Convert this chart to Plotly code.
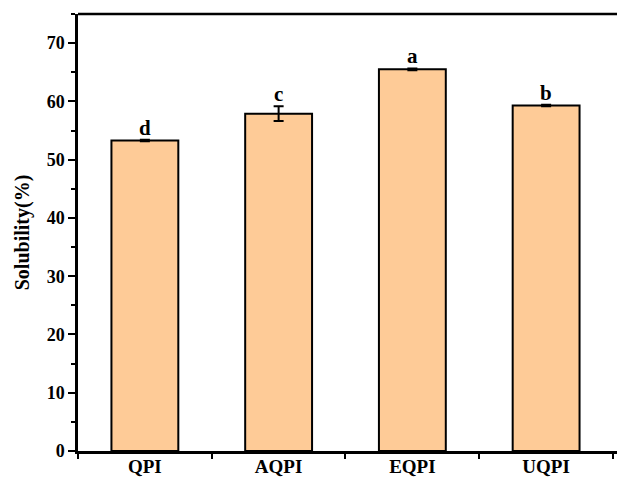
import plotly.graph_objects as go

# Solubility of the protein isolates (mean ± SD) with significance letters
samples = ["QPI", "AQPI", "EQPI", "UQPI"]
solubility = [53.3, 57.9, 65.5, 59.3]
sd = [0.12, 1.25, 0.15, 0.12]
letters = ["d", "c", "a", "b"]

FONT = "Liberation Serif"

fig = go.Figure()
fig.add_trace(go.Bar(
    x=samples,
    y=solubility,
    width=0.5,
    marker=dict(color="#FECB97", line=dict(color="black", width=2)),
    error_y=dict(type="data", array=sd, visible=True,
                 color="black", thickness=2, width=5),
    showlegend=False,
))

for s, v, e, t in zip(samples, solubility, sd, letters):
    fig.add_annotation(x=s, y=v + e, text=f"<b>{t}</b>", showarrow=False,
                       yanchor="bottom", yshift=-2,
                       font=dict(family=FONT, size=21, color="black"))

# top frame line of the plotting area
fig.add_shape(type="line", xref="paper", yref="paper", x0=0, x1=1, y0=1, y1=1,
              line=dict(color="black", width=2.5))

fig.update_layout(
    width=617, height=478,
    margin=dict(l=78, r=0, t=14, b=27),
    plot_bgcolor="white", paper_bgcolor="white",
    bargap=0.5,
)
fig.update_xaxes(
    type="category",
    range=[-0.5, 3.53],
    automargin=False,
    showline=True, linecolor="black", linewidth=2.5,
    mirror=False,
    ticks="outside", tickson="boundaries", ticklen=5, tickwidth=2,
    tickcolor="black", ticklabelstandoff=-4,
    tickfont=dict(family=FONT, size=19, color="black", weight="bold"),
    showgrid=False,
)
fig.update_yaxes(
    range=[0, 75],
    automargin=False,
    showline=True, linecolor="black", linewidth=2.5,
    ticks="outside", ticklen=7, tickwidth=2, tickcolor="black",
    tick0=0, dtick=10,
    minor=dict(ticks="outside", ticklen=4, tickwidth=2, tickcolor="black", dtick=5),
    tickfont=dict(family=FONT, size=18, color="black", weight="bold"),
    showgrid=False, zeroline=False,
    title=dict(text="<b>Solubility(%)</b>", standoff=12,
               font=dict(family=FONT, size=20, color="black")),
)

fig.write_html("out.html")
